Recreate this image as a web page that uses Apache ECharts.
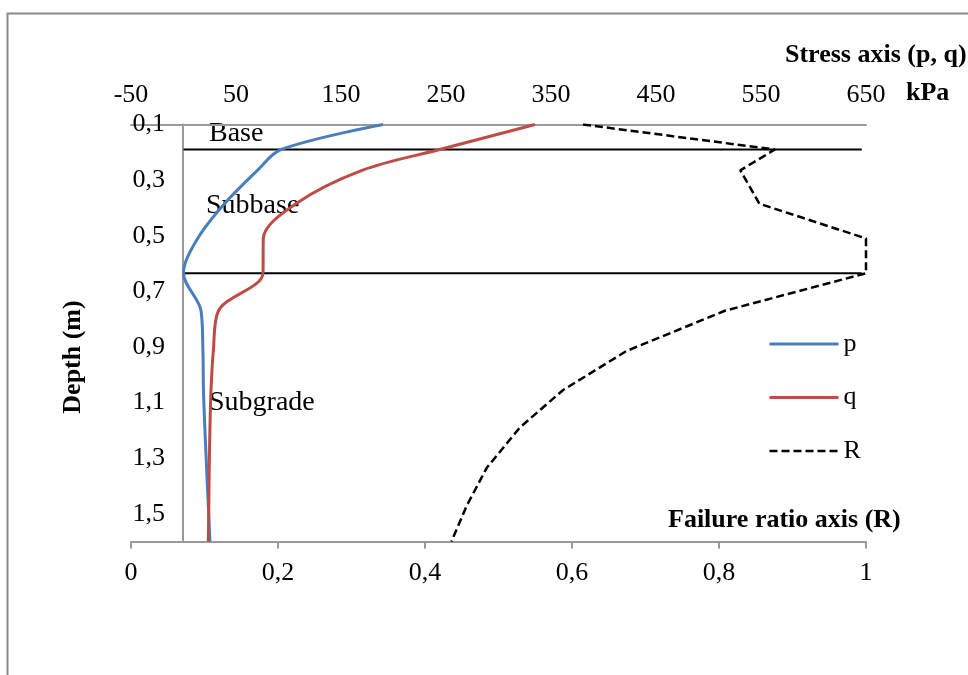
<!DOCTYPE html>
<html><head><meta charset="utf-8">
<script src="https://cdn.jsdelivr.net/npm/echarts@6/dist/echarts.min.js"></script>
<style>html,body{margin:0;padding:0;background:#fff}#c{width:968px;height:675px}</style>
</head><body><div id="c"></div>
<script>
// ---- data ----
const depths = [0.1, 0.19, 0.265, 0.385, 0.51, 0.635, 0.77, 0.915, 1.055, 1.19, 1.335, 1.47, 1.6];
const pValues = [190, 92.9, 70.4, 39, 13.5, 0, 16.7, 18.5, 19, 20.3, 22, 23.6, 25.2];
const qValues = [334.8, 244, 170, 107, 76, 75.7, 33.3, 28.4, 26.2, 25.2, 24.5, 24.1, 23.6];
const rValues = [0.615, 0.876, 0.829, 0.855, 1.0, 1.0, 0.808, 0.674, 0.588, 0.529, 0.484, 0.457, 0.436];
const layerBoundaryDepths = [0.19, 0.635];
const boundaryStressRange = [0, 646];
const stressAxisRange = [-50, 650];
const stressInterval = 100;
const ratioAxisRange = [0, 1];
const ratioInterval = 0.2;
const depthAxisRange = [0.1, 1.6];
const depthInterval = 0.2;
const seriesNames = ['p', 'q', 'R'];
const layerNames = ['Base', 'Subbase', 'Subgrade'];
const stressTitle = 'Stress axis (p, q)';
const stressUnit = 'kPa';
const ratioTitle = 'Failure ratio axis (R)';
const depthTitle = 'Depth (m)';

const FONT = "'Liberation Serif','Times New Roman',serif";
const GRAY = '#9a9a9a';
const BLUE = '#4A7EBB';
const RED = '#BE4B48';
const comma = v => String(+(+v).toFixed(2)).replace('.', ',');

const zip = (xs, ys) => xs.map((x, i) => [x, ys[i]]);

const boundarySeries = layerBoundaryDepths.map(d => ({
  type: 'line', xAxisIndex: 1, yAxisIndex: 0, silent: true,
  symbol: 'none', lineStyle: { color: '#000', width: 2 },
  data: boundaryStressRange.map(s => [s, d]), z: 1
}));

const chart = echarts.init(document.getElementById('c'), null, { renderer: 'canvas' });
chart.setOption({
  animation: false,
  backgroundColor: '#fff',
  grid: { left: 131, right: 102, top: 124.5, bottom: 133.5, containLabel: false },
  xAxis: [
    {
      type: 'value', position: 'bottom',
      min: ratioAxisRange[0], max: ratioAxisRange[1], interval: ratioInterval,
      axisLine: { onZero: false, lineStyle: { color: GRAY, width: 2 } },
      axisTick: { show: true, length: 7, lineStyle: { color: GRAY, width: 2 } },
      splitLine: { show: false },
      axisLabel: { formatter: comma, color: '#000', fontFamily: FONT, fontSize: 26, margin: 19 }
    },
    {
      type: 'value', position: 'top',
      min: stressAxisRange[0], max: stressAxisRange[1], interval: stressInterval,
      axisLine: { onZero: false, lineStyle: { color: GRAY, width: 2 } },
      axisTick: { show: false },
      splitLine: { show: false },
      axisLabel: { color: '#000', fontFamily: FONT, fontSize: 26, margin: 16 }
    }
  ],
  yAxis: [{
    type: 'value', inverse: true, position: 'left', offset: -52,
    min: depthAxisRange[0], max: depthAxisRange[1], interval: depthInterval,
    axisLine: { show: true, onZero: false, lineStyle: { color: GRAY, width: 2 } },
    axisTick: { show: false },
    splitLine: { show: false },
    axisLabel: { formatter: v => (+v).toFixed(1).replace('.', ','), color: '#000', fontFamily: FONT, fontSize: 26, margin: 18, showMaxLabel: false }
  }],
  legend: {
    data: [
      { name: seriesNames[0], lineStyle: { width: 3, color: BLUE } },
      { name: seriesNames[1], lineStyle: { width: 3, color: RED } },
      { name: seriesNames[2], lineStyle: { width: 2.5, color: '#000', type: [8, 4] } }
    ],
    orient: 'vertical', left: 763, top: 326,
    itemWidth: 69, itemHeight: 14, itemGap: 27.5, selectedMode: false,
    itemStyle: { color: 'transparent', borderColor: 'transparent', borderWidth: 0, opacity: 0 },
    textStyle: { color: '#000', fontFamily: FONT, fontSize: 26 }
  },
  series: [
    ...boundarySeries,
    {
      name: seriesNames[0], type: 'line', xAxisIndex: 1, yAxisIndex: 0,
      data: zip(pValues, depths), smooth: 0.33, symbol: 'none', showSymbol: false,
      lineStyle: { color: BLUE, width: 3 }, itemStyle: { color: BLUE }, z: 3
    },
    {
      name: seriesNames[1], type: 'line', xAxisIndex: 1, yAxisIndex: 0,
      data: zip(qValues, depths), smooth: 0.33, symbol: 'none', showSymbol: false,
      lineStyle: { color: RED, width: 3 }, itemStyle: { color: RED }, z: 3
    },
    {
      name: seriesNames[2], type: 'line', xAxisIndex: 0, yAxisIndex: 0,
      data: zip(rValues, depths), smooth: false, symbol: 'none', showSymbol: false,
      lineStyle: { color: '#000', width: 2.5, type: [8, 4] }, itemStyle: { color: '#000' }, z: 3
    }
  ],
  graphic: [
    { type: 'rect', shape: { x: 7.5, y: 13.5, width: 1000, height: 700 }, style: { fill: 'none', stroke: '#8a8a8a', lineWidth: 2 }, z: -1 },
    { type: 'text', x: 785, y: 55, style: { text: stressTitle, font: `bold 26px ${FONT}`, fill: '#000', verticalAlign: 'middle' } },
    { type: 'text', x: 906, y: 93, style: { text: stressUnit, font: `bold 26px ${FONT}`, fill: '#000', verticalAlign: 'middle' } },
    { type: 'text', x: 668, y: 520, style: { text: ratioTitle, font: `bold 26px ${FONT}`, fill: '#000', verticalAlign: 'middle' } },
    { type: 'text', x: 73, y: 357, rotation: Math.PI / 2, style: { text: depthTitle, font: `bold 26px ${FONT}`, fill: '#000', align: 'center', verticalAlign: 'middle' } },
    { type: 'text', x: 209, y: 134, style: { text: layerNames[0], font: `28px ${FONT}`, fill: '#000', verticalAlign: 'middle' } },
    { type: 'text', x: 206, y: 206, style: { text: layerNames[1], font: `28px ${FONT}`, fill: '#000', verticalAlign: 'middle' } },
    { type: 'text', x: 209, y: 403, style: { text: layerNames[2], font: `28px ${FONT}`, fill: '#000', verticalAlign: 'middle' } }
  ]
});
</script></body></html>
